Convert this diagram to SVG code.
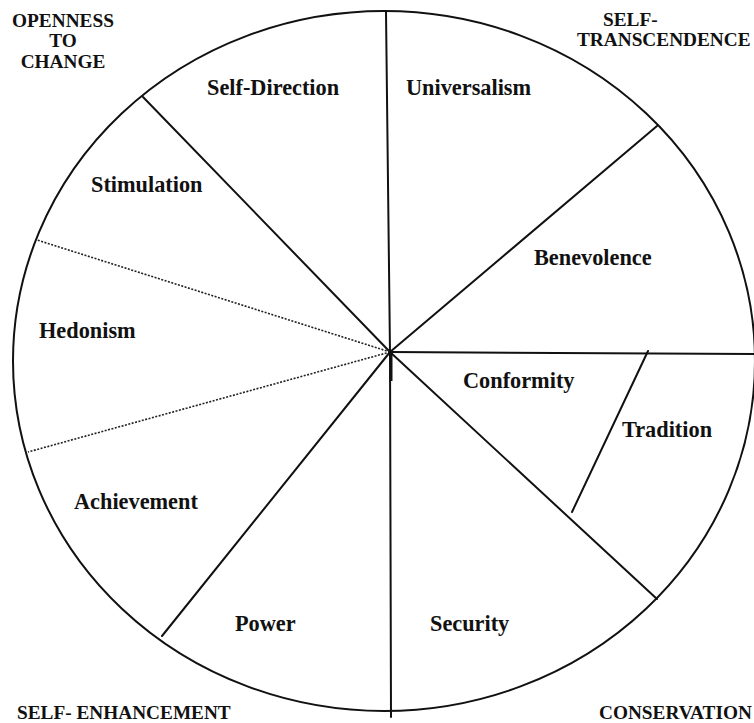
<svg xmlns="http://www.w3.org/2000/svg" width="754" height="723" viewBox="0 0 754 723">
<style>
.ln{stroke:#111;stroke-width:2;fill:none;stroke-linecap:round}
.dot{stroke:#222;stroke-width:1.6;fill:none;stroke-dasharray:2 1.5}
.lbl{font-family:"Liberation Serif","Times New Roman",serif;font-weight:bold;font-size:22.3px;fill:#111}
.cat{font-family:"Liberation Serif","Times New Roman",serif;font-weight:bold;font-size:19.3px;fill:#111}
</style>
<rect width="754" height="723" fill="#fff"/>
<g id="connectors">
<ellipse class="ln" cx="384" cy="361" rx="371" ry="350"/>
<line class="ln" x1="390" y1="352" x2="386" y2="12"/>
<line class="ln" x1="390" y1="352" x2="143" y2="97"/>
<line class="dot" x1="390" y1="352" x2="37" y2="240"/>
<line class="dot" x1="390" y1="352" x2="28" y2="452"/>
<line class="ln" x1="390" y1="352" x2="162" y2="636"/>
<line class="ln" x1="390" y1="352" x2="391" y2="717"/>
<line class="ln" x1="390" y1="352" x2="657" y2="599"/>
<line class="ln" x1="390" y1="352" x2="754" y2="354"/>
<line class="ln" x1="390" y1="352" x2="657" y2="126"/>
<line class="ln" x1="648" y1="351" x2="572" y2="512"/>
<line stroke="#111" stroke-width="3" x1="391" y1="352" x2="391" y2="381"/>
</g>
<g id="self-direction"><text class="lbl" x="207" y="95">Self-Direction</text></g>
<g id="universalism"><text class="lbl" x="406" y="95">Universalism</text></g>
<g id="stimulation"><text class="lbl" x="91" y="192">Stimulation</text></g>
<g id="benevolence"><text class="lbl" x="534" y="265">Benevolence</text></g>
<g id="hedonism"><text class="lbl" x="39" y="338">Hedonism</text></g>
<g id="conformity"><text class="lbl" x="463" y="388">Conformity</text></g>
<g id="tradition"><text class="lbl" x="622" y="437">Tradition</text></g>
<g id="achievement"><text class="lbl" x="74" y="509">Achievement</text></g>
<g id="power"><text class="lbl" x="235" y="631">Power</text></g>
<g id="security"><text class="lbl" x="430" y="631">Security</text></g>
<g id="openness"><text class="cat" text-anchor="middle"><tspan x="63" y="27">OPENNESS</tspan><tspan x="63" y="47">TO</tspan><tspan x="63" y="68">CHANGE</tspan></text></g>
<g id="self-transcendence"><text class="cat"><tspan x="603" y="26">SELF-</tspan><tspan x="577" y="46">TRANSCENDENCE</tspan></text></g>
<g id="self-enhancement"><text class="cat" x="17" y="719">SELF- ENHANCEMENT</text></g>
<g id="conservation"><text class="cat" x="599" y="719">CONSERVATION</text></g>
</svg>
